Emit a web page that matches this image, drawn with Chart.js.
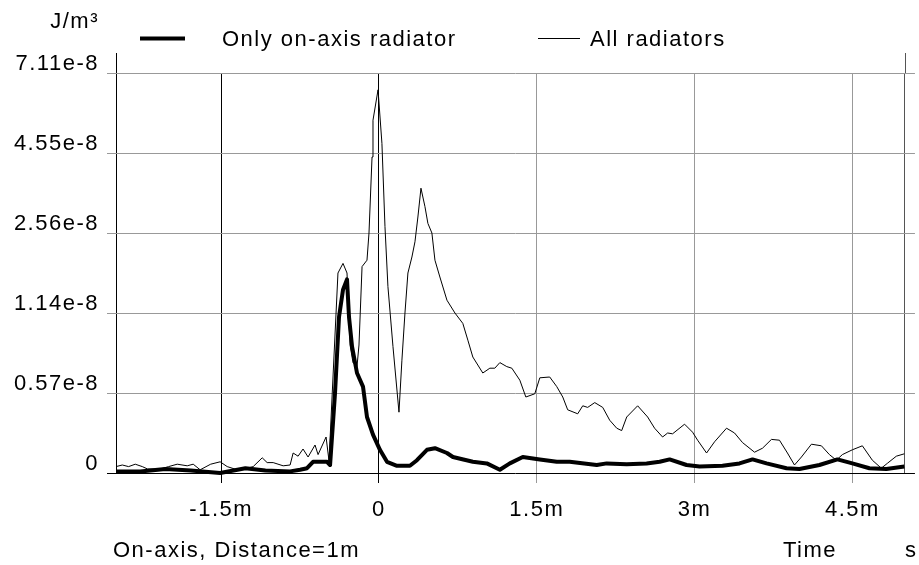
<!DOCTYPE html>
<html>
<head>
<meta charset="utf-8">
<script src="https://cdn.jsdelivr.net/npm/chart.js@4.4.1/dist/chart.umd.min.js"></script>
<style>
  html, body { margin: 0; padding: 0; background: #fff; }
  #wrap { width: 919px; height: 565px; }
</style>
</head>
<body>
<div id="wrap"><canvas id="c" width="919" height="565"></canvas></div>
<script>
// 時間軸 (ms) とエネルギー密度軸 (目盛り区分単位, 0..5)
const timeTicks = [-2.5, -1.5, 0, 1.5, 3, 4.5, 5];
const timeTickLabels = ['', '-1.5m', '0', '1.5m', '3m', '4.5m', ''];
const levelTicks = [0, 1, 2, 3, 4, 5];
const levelTickLabels = ['0', '0.57e-8', '1.14e-8', '2.56e-8', '4.55e-8', '7.11e-8'];

// 軸上のラジエータのみ
const onAxisTime = [
  -2.5, -2.27, -2.03, -1.79, -1.51, -1.27, -1.08, -0.845, -0.75, -0.684, -0.627, -0.494,
  -0.465, -0.418, -0.38, -0.342, -0.304, -0.285, -0.256, -0.209, -0.152, -0.114, -0.057,
  0.009, 0.076, 0.171, 0.294, 0.361, 0.456, 0.532, 0.646, 0.703, 0.892, 1.025, 1.149,
  1.244, 1.367, 1.529, 1.69, 1.813, 2.07, 2.165, 2.355, 2.544, 2.668, 2.763, 2.924,
  3.048, 3.266, 3.427, 3.551, 3.684, 3.874, 3.997, 4.187, 4.358, 4.5, 4.662, 4.823, 4.994,
];
const onAxisLevel = [
  0.02, 0.02, 0.05, 0.03, 0.0, 0.06, 0.03, 0.02, 0.04, 0.06, 0.14, 0.14,
  0.1, 1.0, 1.95, 2.29, 2.42, 1.95, 1.58, 1.25, 1.08, 0.7, 0.48,
  0.29, 0.14, 0.09, 0.09, 0.16, 0.29, 0.31, 0.25, 0.2, 0.14, 0.12, 0.04,
  0.12, 0.2, 0.17, 0.14, 0.14, 0.1, 0.12, 0.11, 0.12, 0.14, 0.17, 0.1,
  0.08, 0.09, 0.12, 0.17, 0.12, 0.06, 0.05, 0.1, 0.17, 0.12, 0.06, 0.05, 0.08,
];

// 全ラジエータ
const allTime = [
  -2.5, -2.44, -2.38, -2.317, -2.25, -2.2, -2.08, -2.0, -1.918, -1.823, -1.766, -1.7,
  -1.6, -1.51, -1.443, -1.348, -1.253, -1.196, -1.11, -1.063, -1.006, -0.911, -0.845,
  -0.816, -0.769, -0.722, -0.674, -0.608, -0.579, -0.503, -0.475, -0.437, -0.39,
  -0.342, -0.304, -0.275, -0.247, -0.209, -0.19, -0.161, -0.114, -0.095, -0.066,
  -0.057, -0.009, 0.028, 0.057, 0.085, 0.133, 0.19, 0.218, 0.247, 0.275, 0.313,
  0.342, 0.37, 0.399, 0.437, 0.465, 0.503, 0.532, 0.579, 0.646, 0.722, 0.797, 0.845,
  0.892, 0.987, 1.054, 1.101, 1.149, 1.215, 1.263, 1.339, 1.396, 1.481, 1.529, 1.623,
  1.69, 1.747, 1.794, 1.889, 1.937, 1.984, 2.051, 2.127, 2.193, 2.26, 2.307, 2.355,
  2.459, 2.554, 2.62, 2.696, 2.744, 2.791, 2.905, 2.981, 3.029, 3.114, 3.19, 3.304,
  3.38, 3.456, 3.57, 3.646, 3.731, 3.807, 3.883, 3.95, 4.016, 4.111, 4.206, 4.282,
  4.348, 4.405, 4.5, 4.595, 4.69, 4.775, 4.832, 4.918, 4.994,
];
const allLevel = [
  0.08, 0.1, 0.08, 0.11, 0.08, 0.05, 0.05, 0.08, 0.11, 0.09, 0.11, 0.04,
  0.11, 0.14, 0.08, 0.04, 0.06, 0.08, 0.19, 0.13, 0.13, 0.09, 0.1,
  0.25, 0.21, 0.3, 0.2, 0.35, 0.23, 0.45, 0.15, 1.2, 2.5,
  2.62, 2.5, 1.6, 1.38, 1.33, 1.6, 2.58, 2.66, 3.0, 3.95,
  4.41, 4.79, 4.12, 3.08, 2.33, 1.58, 0.76, 1.41, 2.0, 2.5, 2.7,
  2.89, 3.2, 3.56, 3.33, 3.12, 3.0, 2.66, 2.45, 2.16, 2.0, 1.87, 1.66,
  1.45, 1.25, 1.31, 1.31, 1.38, 1.33, 1.31, 1.16, 0.95, 0.99, 1.19, 1.2,
  1.08, 0.95, 0.79, 0.74, 0.84, 0.82, 0.88, 0.82, 0.66, 0.56, 0.53, 0.7,
  0.84, 0.7, 0.56, 0.45, 0.5, 0.49, 0.61, 0.51, 0.41, 0.25, 0.39, 0.56,
  0.5, 0.38, 0.26, 0.31, 0.42, 0.41, 0.25, 0.1, 0.2, 0.36, 0.34, 0.23,
  0.16, 0.23, 0.29, 0.34, 0.16, 0.06, 0.12, 0.21, 0.24,
];

const FONT = "'Liberation Sans', Arial, Helvetica, sans-serif";
const FONT_SIZE = 22;
const SPACING = '1.5px';
const GRID_GRAY = '#999999';

const toPoints = (xs, ys) => xs.map((x, i) => ({ x, y: ys[i] }));

// 凡例・単位・キャプションの描画
const decorPlugin = {
  id: 'decor',
  beforeDraw(chart) {
    chart.ctx.letterSpacing = SPACING;
  },
  afterDraw(chart) {
    const { ctx, chartArea, scales } = chart;
    const xs = scales.x;
    ctx.save();
    ctx.letterSpacing = SPACING;

    // 左右の枠線を上に延長
    const top = chartArea.top;
    ctx.lineWidth = 1;
    ctx.strokeStyle = '#000';
    const xl = Math.round(xs.getPixelForValue(timeTicks[0])) + 0.5;
    ctx.beginPath(); ctx.moveTo(xl, top - 20); ctx.lineTo(xl, top); ctx.stroke();
    ctx.strokeStyle = '#555';
    const xr = Math.round(xs.getPixelForValue(timeTicks[timeTicks.length - 1])) + 0.5;
    ctx.beginPath(); ctx.moveTo(xr, top - 20); ctx.lineTo(xr, top); ctx.stroke();

    ctx.fillStyle = '#000';
    ctx.font = FONT_SIZE + 'px ' + FONT;
    ctx.textBaseline = 'alphabetic';

    // 単位
    ctx.textAlign = 'right';
    ctx.fillText('J/m³', 99, 28);

    // 凡例
    ctx.textAlign = 'left';
    const ds = chart.data.datasets;
    const items = [
      { x0: 140, x1: 185, tx: 222, d: ds[0] },
      { x0: 538, x1: 580, tx: 590, d: ds[1] },
    ];
    items.forEach(it => {
      ctx.strokeStyle = it.d.borderColor;
      ctx.lineWidth = it.d.borderWidth;
      ctx.beginPath(); ctx.moveTo(it.x0, 38.5); ctx.lineTo(it.x1, 38.5); ctx.stroke();
      ctx.fillText(it.d.label, it.tx, 46);
    });

    // 下部キャプション
    ctx.fillText('On-axis, Distance=1m', 113, 557);
    ctx.fillText('Time', 783, 557);
    ctx.fillText('s', 905, 557);
    ctx.restore();
  },
};

const ctx = document.getElementById('c').getContext('2d');
new Chart(ctx, {
  type: 'line',
  data: {
    datasets: [
      {
        label: 'Only on-axis radiator',
        data: toPoints(onAxisTime, onAxisLevel),
        borderColor: '#000',
        borderWidth: 4,
        pointRadius: 0,
        tension: 0,
        borderJoinStyle: 'round',
        clip: false,
      },
      {
        label: 'All radiators',
        data: toPoints(allTime, allLevel),
        borderColor: '#000',
        borderWidth: 1,
        pointRadius: 0,
        tension: 0,
        clip: false,
      },
    ],
  },
  options: {
    responsive: false,
    animation: false,
    events: [],
    layout: { padding: { top: 73, right: 4, bottom: 0, left: 0 } },
    font: { family: FONT, size: FONT_SIZE },
    plugins: {
      legend: { display: false },
      tooltip: { enabled: false },
    },
    scales: {
      x: {
        type: 'linear',
        min: -2.5,
        max: 5.095,
        afterBuildTicks: s => { s.ticks = timeTicks.map(v => ({ value: v })); },
        afterFit: s => { s.height = 92; },
        ticks: {
          callback: (v, i) => timeTickLabels[i],
          color: '#000',
          font: { family: FONT, size: FONT_SIZE },
          padding: 14,
          maxRotation: 0,
          autoSkip: false,
        },
        grid: {
          lineWidth: 1,
          tickLength: 10,
          color: c => {
            const v = c.tick ? c.tick.value : null;
            if (v === -2.5 || v === -1.5 || v === 0) return '#000';
            if (v === 5) return '#555';
            return GRID_GRAY;
          },
          tickColor: c => {
            const v = c.tick ? c.tick.value : null;
            if (v === -2.5 || v === 5) return 'rgba(0,0,0,0)';
            if (v === -1.5 || v === 0) return '#000';
            return GRID_GRAY;
          },
        },
        border: { display: false },
      },
      y: {
        type: 'linear',
        min: 0,
        max: 5,
        afterBuildTicks: s => { s.ticks = levelTicks.map(v => ({ value: v })); },
        afterFit: s => { s.width = 116; },
        ticks: {
          callback: (v, i) => levelTickLabels[i],
          color: '#000',
          font: { family: FONT, size: FONT_SIZE },
          padding: 8,
          labelOffset: -9,
        },
        grid: {
          lineWidth: 1,
          tickLength: 9,
          color: c => (c.tick && c.tick.value === 0 ? '#000' : GRID_GRAY),
        },
        border: { display: false },
      },
    },
  },
  plugins: [decorPlugin],
});
</script>
</body>
</html>
